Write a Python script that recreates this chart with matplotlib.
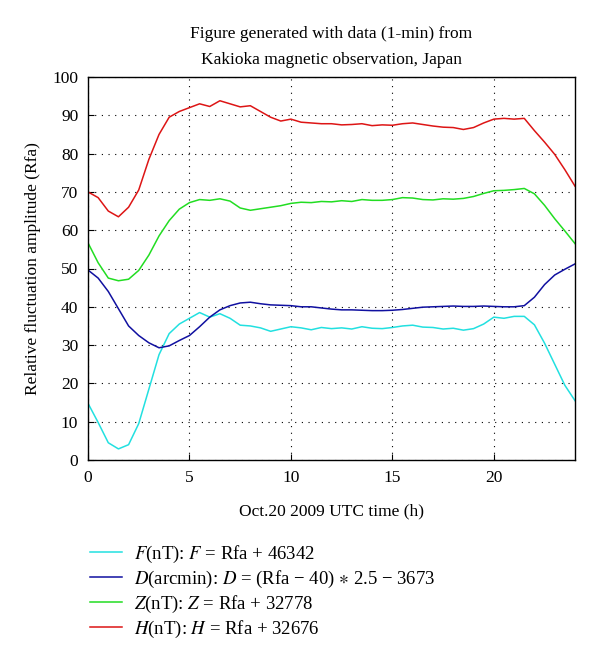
import matplotlib
matplotlib.use('Agg')
import matplotlib.pyplot as plt
import numpy as np

plt.rcParams['font.family'] = ['Liberation Serif', 'DejaVu Serif']
plt.rcParams['mathtext.fontset'] = 'stix'

# hours (UTC), half-hour steps
hours = np.arange(0, 24.01, 0.5)

f_vals = [14.8, 9.8, 4.5, 2.9, 4.0, 9.5, 18.5, 27.5, 33.0, 35.5, 37.0, 38.5,
          37.3, 38.2, 37.0, 35.2, 35.0, 34.5, 33.6, 34.2, 34.8, 34.5, 34.0, 34.6,
          34.3, 34.5, 34.2, 34.8, 34.4, 34.3, 34.6, 35.0, 35.2, 34.7, 34.6, 34.2,
          34.4, 33.9, 34.3, 35.5, 37.3, 37.0, 37.5, 37.5, 35.3, 30.5, 25.0, 19.5, 15.5]
d_vals = [49.6, 47.5, 44.0, 39.5, 35.0, 32.5, 30.6, 29.3, 29.8, 31.2, 32.5, 34.8,
          37.3, 39.2, 40.3, 41.0, 41.2, 40.8, 40.5, 40.4, 40.3, 40.0, 40.0, 39.7,
          39.4, 39.2, 39.2, 39.1, 39.0, 39.0, 39.1, 39.3, 39.6, 39.9, 40.0, 40.1,
          40.2, 40.1, 40.1, 40.2, 40.1, 40.0, 40.0, 40.3, 42.5, 45.8, 48.3, 49.8, 51.2]
z_vals = [56.7, 51.5, 47.5, 46.8, 47.2, 49.5, 53.5, 58.5, 62.5, 65.5, 67.2, 68.0,
          67.8, 68.2, 67.6, 65.8, 65.2, 65.6, 66.0, 66.4, 67.0, 67.3, 67.2, 67.5,
          67.4, 67.7, 67.5, 68.0, 67.8, 67.8, 68.0, 68.5, 68.4, 68.0, 67.9, 68.2,
          68.1, 68.3, 68.8, 69.6, 70.3, 70.4, 70.6, 70.9, 69.5, 66.5, 63.0, 59.8, 56.5]
h_vals = [70.0, 68.5, 65.0, 63.5, 66.0, 70.5, 78.5, 85.0, 89.5, 91.0, 92.0, 93.0,
          92.3, 93.8, 93.0, 92.2, 92.5, 91.0, 89.5, 88.5, 89.0, 88.2, 88.0, 87.8,
          87.8, 87.5, 87.6, 87.8, 87.3, 87.5, 87.4, 87.8, 88.0, 87.6, 87.2, 86.9,
          86.8, 86.3, 86.8, 88.0, 89.0, 89.2, 89.0, 89.2, 86.0, 83.0, 79.8, 75.8, 71.5]

labels = [r'$F$(nT): $F$ = Rfa + 46342',
          r'$D$(arcmin): $D$ = (Rfa − 40) $\ast$ 2.5 − 3673',
          r'$Z$(nT): $Z$ = Rfa + 32778',
          r'$H$(nT): $H$ = Rfa + 32676']
colors = ['#22e0e0', '#1010a0', '#22dd22', '#dd1515']

fig = plt.figure(figsize=(6, 6.54), dpi=100)
ax = fig.add_axes([88 / 600, 1 - 460 / 654, 487 / 600, 383 / 654])

lines = []
for vals, lab, col in zip([f_vals, d_vals, z_vals, h_vals], labels, colors):
    ln, = ax.plot(hours, vals, color=col, lw=1.1, label=lab)
    lines.append(ln)

ax.set_xlim(0, 24)
ax.set_ylim(0, 100)
ax.set_xticks([0, 5, 10, 15, 20])
ax.set_yticks(np.arange(0, 101, 10))
ax.tick_params(direction='in', labelsize=12.5, length=4, pad=7)
ax.grid(True, color='black', linestyle=(0, (1, 5)), linewidth=0.8)
for s in ax.spines.values():
    s.set_linewidth(1.0)

ax.set_xlabel('Oct.20 2009 UTC time (h)', fontsize=12.5, labelpad=13)
ax.set_ylabel('Relative fluctuation amplitude (Rfa)', fontsize=12.5, labelpad=8)
ax.set_title('Figure generated with data (1-min) from\nKakioka magnetic observation, Japan',
             fontsize=12.5, pad=9, linespacing=1.9)

fig.legend(handles=lines, loc='upper left', bbox_to_anchor=(73 / 600, 1 - 527 / 654),
           frameon=False, fontsize=13.5, handlelength=1.7, labelspacing=0.2,
           handletextpad=0.65)

fig.savefig('out.png', dpi=100)
